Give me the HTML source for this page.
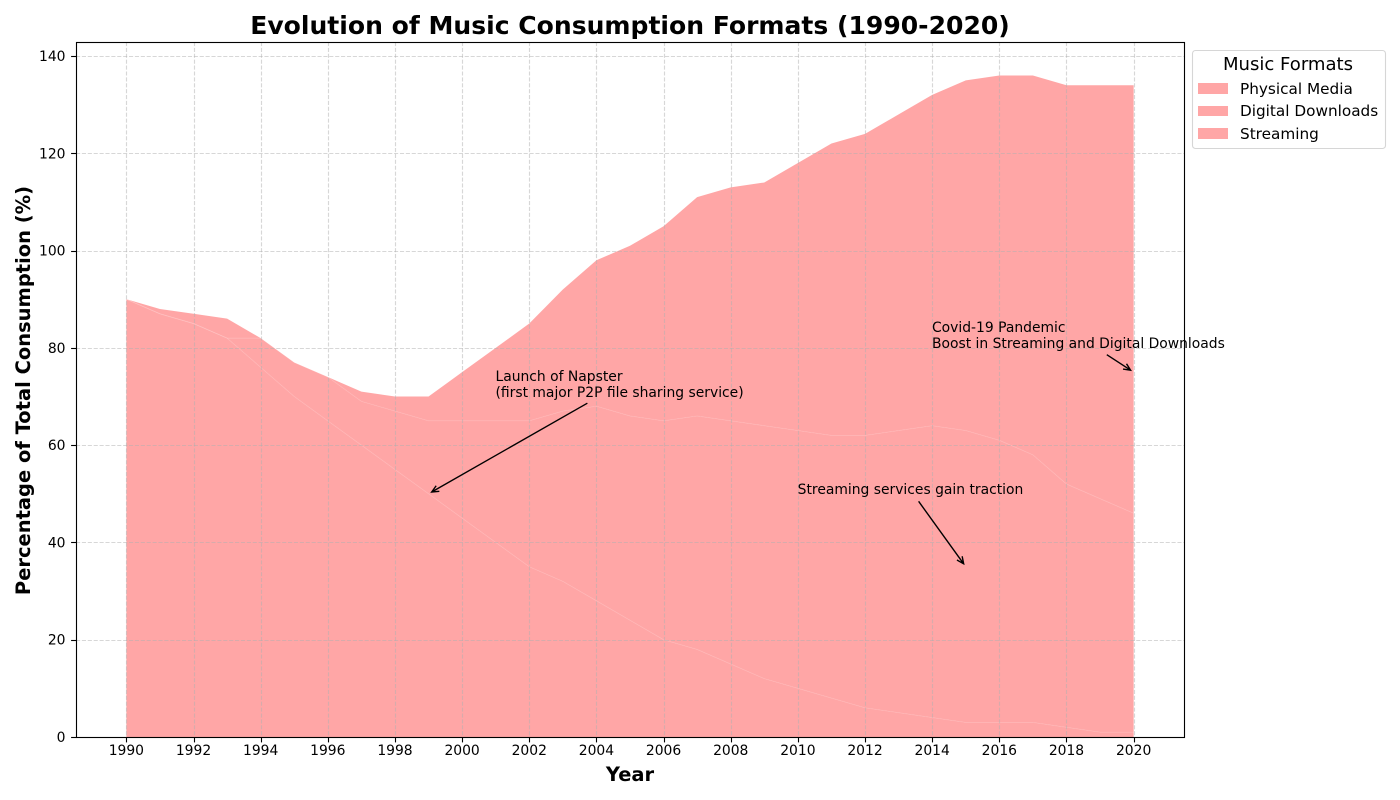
<!DOCTYPE html>
<html lang="en">
<head>
<meta charset="utf-8">
<title>Evolution of Music Consumption Formats (1990-2020)</title>
<style>
html,body{margin:0;padding:0;background:#fff;width:1400px;height:800px;overflow:hidden}
svg{display:block}
text{font-family:"DejaVu Sans","Liberation Sans",sans-serif;fill:#000}
</style>
</head>
<body>
<svg id="chart" xmlns="http://www.w3.org/2000/svg" width="1400" height="800" viewBox="0 0 1400 800">
  <text x="630" y="34" text-anchor="middle" font-size="25.05px" font-weight="bold">Evolution of Music Consumption Formats (1990-2020)</text>
  <g id="areas"></g>
  <g id="seams"></g>
  <g id="grid"></g>
  <rect x="76.5" y="42.5" width="1108" height="695" fill="none" stroke="#000" stroke-width="1.11"></rect>
  <g id="ticks"></g>
  <g id="notes"></g>
  <text x="630" y="781" text-anchor="middle" font-size="19.44px" font-weight="bold">Year</text>
  <text transform="translate(30,390.5) rotate(-90)" text-anchor="middle" font-size="19.48px" font-weight="bold">Percentage of Total Consumption (%)</text>
  <g>
    <rect x="1192.5" y="50.5" width="193" height="98" rx="3" ry="3" fill="#fff" fill-opacity="0.8" stroke="#d6d6d6" stroke-width="1.11"></rect>
    <text x="1288" y="70" text-anchor="middle" font-size="18.06px">Music Formats</text>
    <g>
      <rect x="1198" y="83" width="30" height="11" fill="#ff6b6b" fill-opacity="0.6"></rect>
      <text x="1240" y="94" font-size="15.28px">Physical Media</text>
    </g>
    <g>
      <rect x="1198" y="106" width="30" height="10" fill="#ff6b6b" fill-opacity="0.6"></rect>
      <text x="1240" y="116" font-size="15.28px">Digital Downloads</text>
    </g>
    <g>
      <rect x="1198" y="128" width="30" height="11" fill="#ff6b6b" fill-opacity="0.6"></rect>
      <text x="1240" y="139" font-size="15.28px">Streaming</text>
    </g>
  </g>
</svg>
<script>
const years = [1990,1991,1992,1993,1994,1995,1996,1997,1998,1999,2000,2001,2002,2003,2004,2005,2006,2007,2008,2009,2010,2011,2012,2013,2014,2015,2016,2017,2018,2019,2020];
const physicalMedia = [90,87,85,82,76,70,65,60,55,50,45,40,35,32,28,24,20,18,15,12,10,8,6,5,4,3,3,3,2,1,1];
const digitalDownloads = [0,0,0,0,6,7,9,9,12,15,20,25,30,35,40,42,45,48,50,52,53,54,56,58,60,60,58,55,50,48,45];
const streaming = [0,1,2,4,0,0,0,2,3,5,10,15,20,25,30,35,40,45,48,50,55,60,62,65,68,72,75,78,82,85,88];
const xTickLabels = [1990,1992,1994,1996,1998,2000,2002,2004,2006,2008,2010,2012,2014,2016,2018,2020];
const yTickLabels = [0,20,40,60,80,100,120,140];
const annotationText = [
  ["Launch of Napster", "(first major P2P file sharing service)"],
  ["Streaming services gain traction"],
  ["Covid-19 Pandemic", "Boost in Streaming and Digital Downloads"]
];
const annotationAnchor = [[2001,70],[2010,50],[2014,80]];
const annotationTarget = [[1999,50],[2015,35],[2020,75]];

const NS = "http://www.w3.org/2000/svg";
const xMin = 1988.5, xMax = 2021.5, yMin = 0, yMax = 142.88;
const plotLeft = 76, plotRight = 1184, plotTop = 42, plotBottom = 737;
function xScale(v){ return plotLeft + (v - xMin) / (xMax - xMin) * (plotRight - plotLeft); }
function yScale(v){ return plotBottom - (v - yMin) / (yMax - yMin) * (plotBottom - plotTop); }
function make(parent, tag, attrs, content){
  const node = document.createElementNS(NS, tag);
  for (const key in attrs) node.setAttribute(key, attrs[key]);
  if (content !== undefined) node.textContent = content;
  parent.appendChild(node);
  return node;
}

const areas = document.getElementById("areas");
const seams = document.getElementById("seams");
const grid = document.getElementById("grid");
const ticks = document.getElementById("ticks");
const notes = document.getElementById("notes");

const seriesList = [physicalMedia, digitalDownloads, streaming];
const seriesNames = ["physical-media", "digital-downloads", "streaming"];
let baseline = years.map(() => 0);
seriesList.forEach((values, s) => {
  const tops = values.map((v, i) => baseline[i] + v);
  const upper = years.map((yr, i) => xScale(yr).toFixed(2) + "," + yScale(tops[i]).toFixed(2));
  const lower = years.map((yr, i) => xScale(yr).toFixed(2) + "," + yScale(baseline[i]).toFixed(2)).reverse();
  const area = make(areas, "polygon", {points: upper.concat(lower).join(" "), fill: "#ff6b6b", "fill-opacity": 0.6});
  
  
  if (s < seriesList.length - 1) {
    const seam = make(seams, "polyline", {points: upper.join(" "), fill: "none", stroke: "#fff", "stroke-opacity": 0.13, "stroke-width": 0.9});
    
    
  }
  baseline = tops;
});

const dashStyle = {stroke: "#b0b0b0", "stroke-opacity": 0.5, "stroke-width": 1.11, "stroke-dasharray": "4.11 1.78"};
xTickLabels.forEach(label => {
  const x = Math.round(xScale(label)) + 0.5;
  const gridLine = make(grid, "line", Object.assign({x1: x, x2: x, y1: plotTop, y2: plotBottom}, dashStyle));
  
  
  const tick = make(ticks, "line", {x1: x, x2: x, y1: plotBottom, y2: plotBottom + 5.4, stroke: "#000", "stroke-width": 1.11});
  
  
  const text = make(ticks, "text", {x: xScale(label), y: 755, "text-anchor": "middle", "font-size": "13.89px"}, String(label));
  
  
});
yTickLabels.forEach(label => {
  const y = Math.round(yScale(label)) + 0.5;
  const gridLine = make(grid, "line", Object.assign({x1: plotLeft, x2: plotRight, y1: y, y2: y}, dashStyle));
  
  
  const tick = make(ticks, "line", {x1: plotLeft - 4.9, x2: plotLeft + 0.5, y1: y, y2: y, stroke: "#000", "stroke-width": 1.11});
  
  
  const text = make(ticks, "text", {x: 65.5, y: yScale(label) + 5, "text-anchor": "end", "font-size": "13.89px"}, String(label));
  
  
});

annotationText.forEach((lines, n) => {
  const left = xScale(annotationAnchor[n][0]) - 0.2;
  const bottom = yScale(annotationAnchor[n][1]);
  const label = make(notes, "text", {"font-size": "13.89px"});
  
  
  lines.forEach((line, l) => {
    make(label, "tspan", {x: left, y: bottom + 0.3 - (lines.length - 1 - l) * 16}, line);
  });
  const box = label.getBBox();
  const cx = box.x + box.width / 2, cy = box.y + box.height / 2;
  const tx = xScale(annotationTarget[n][0]), ty = yScale(annotationTarget[n][1]);
  const dx = tx - cx, dy = ty - cy, len = Math.hypot(dx, dy);
  const ux = dx / len, uy = dy / len;
  const halfW = box.width / 2 + 1, halfH = box.height / 2 + 1;
  const clip = Math.min(ux ? halfW / Math.abs(ux) : Infinity, uy ? halfH / Math.abs(uy) : Infinity) + 2.78;
  const sx = cx + ux * clip, sy = cy + uy * clip;
  const ex = tx - ux * 3.6, ey = ty - uy * 3.6;
  const head = 7, wing = 3.2;
  const px = -uy, py = ux;
  const d = "M" + sx.toFixed(2) + " " + sy.toFixed(2) + "L" + ex.toFixed(2) + " " + ey.toFixed(2) +
    "M" + (ex - ux * head + px * wing).toFixed(2) + " " + (ey - uy * head + py * wing).toFixed(2) +
    "L" + ex.toFixed(2) + " " + ey.toFixed(2) +
    "L" + (ex - ux * head - px * wing).toFixed(2) + " " + (ey - uy * head - py * wing).toFixed(2);
  const arrow = make(notes, "path", {d: d, fill: "none", stroke: "#000", "stroke-width": 1.39});
  
  
});
</script>
</body>
</html>
